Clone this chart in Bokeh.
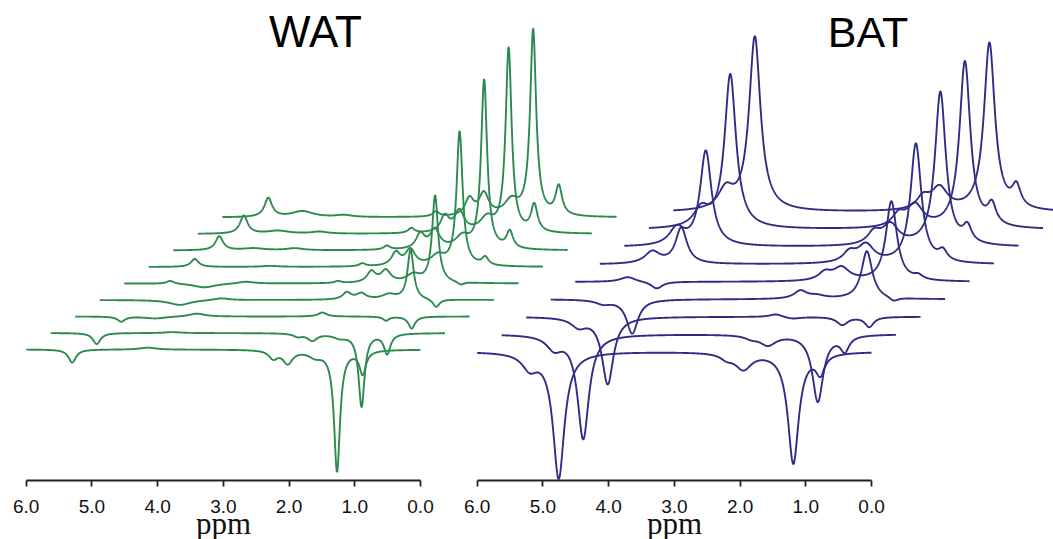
import numpy as np
from bokeh.plotting import figure
from bokeh.models import Range1d, LinearAxis, FixedTicker, PrintfTickFormatter, Label
from bokeh.embed import file_html
from bokeh.resources import INLINE

# ---------------- data ----------------
n_traces = 9
axis_ticks = [6.0, 5.0, 4.0, 3.0, 2.0, 1.0, 0.0]
trace_shift_ppm = 0.373            # horizontal waterfall shift per trace
wat_base0, wat_step = 190.0, 16.5  # baseline of first trace, vertical step (a.u.)
bat_base0, bat_step = 188.0, 17.4

# WAT peak table: position (ppm), half-width (ppm), amplitude per trace (a.u.)
wat_pos = [5.30, 4.78, 4.15, 2.75, 2.24, 2.02, 1.60, 1.27, 0.88]
wat_hw = [0.07, 0.20, 0.15, 0.06, 0.08, 0.09, 0.13, 0.055, 0.06]
wat_olefinic = [-13, -11, -5, 0, 3, 8, 14, 18, 19]
wat_water = [0, 0, -2, -5, -4, 0, 2, 3, 6]
wat_glycerol = [2, 1, 3, 2, 2, 1, 2, 2, 2]
wat_diallylic = [0, 0, 0, 0, 2, 3, 4, 5, 5]
wat_carboxyl = [-8, -3, 4, 7, 11, 13, 15, 16, 17]
wat_allylic = [-13, -7, 0, 6, 12, 16, 19, 21, 22]
wat_beta = [-6, -4, 0, 5, 8, 10, 12, 14, 15]
wat_methylene = [-121, -73, -4, 50, 87, 134, 169, 184, 186]
wat_methyl = [-23, -20, -12, -8, -3, 8, 17, 27, 29]

# BAT peak table
bat_pos = [5.20, 4.76, 2.20, 1.95, 1.19, 0.78]
bat_hw = [0.14, 0.105, 0.12, 0.15, 0.10, 0.08]
bat_olefinic = [-15, -13, -9, -4, 5, 12, 17, 18, 20]
bat_water = [-126, -104, -67, -34, -7, 36, 95, 154, 174]
bat_carboxyl = [-5, -3, 3, 8, 8, 10, 12, 12, 12]
bat_allylic = [-16, -10, -2, 3, 13, 18, 20, 22, 22]
bat_methylene = [-111, -67, -8, 48, 80, 120, 154, 167, 168]
bat_methyl = [-19, -15, -10, -4, 4, 10, 16, 20, 21]

wat_amps = [wat_olefinic, wat_water, wat_glycerol, wat_diallylic, wat_carboxyl,
            wat_allylic, wat_beta, wat_methylene, wat_methyl]
bat_amps = [bat_olefinic, bat_water, bat_carboxyl, bat_allylic, bat_methylene, bat_methyl]

# ---------------- figure ----------------
W, H = 1053, 539
p = figure(width=W, height=H, output_backend="svg", toolbar_location=None,
           x_axis_location=None, y_axis_location=None,
           x_range=Range1d(6.391, -9.632), y_range=Range1d(0, H),
           min_border=0, outline_line_color=None)
p.extra_x_ranges = {"bat": Range1d(13.254, -2.769)}
p.grid.visible = False
p.background_fill_color = "white"
p.border_fill_color = "white"

ppm = np.linspace(6.0, 0.0, 1501)

def spectrum(pos, hw, amps, k):
    y = np.zeros_like(ppm)
    for x0, w, a in zip(pos, hw, amps):
        y += a[k] / (1.0 + ((ppm - x0) / w) ** 2)
    return y

green = "#2c8a4f"
blue = "#2f2c86"

for k in range(n_traces):
    p.line(ppm - k * trace_shift_ppm, wat_base0 + k * wat_step + spectrum(wat_pos, wat_hw, wat_amps, k),
           line_color=green, line_width=1.9)
for k in range(n_traces):
    p.line(ppm - k * trace_shift_ppm, bat_base0 + k * bat_step + spectrum(bat_pos, bat_hw, bat_amps, k),
           line_color=blue, line_width=1.9, x_range_name="bat")

def make_axis(range_name):
    ax = LinearAxis(x_range_name=range_name, fixed_location=59, bounds=(0, 6),
                    ticker=FixedTicker(ticks=axis_ticks, minor_ticks=[]),
                    formatter=PrintfTickFormatter(format="%.1f"),
                    axis_label="ppm")
    ax.axis_line_color = "#222222"
    ax.axis_line_width = 1.8
    ax.major_tick_line_color = "#222222"
    ax.major_tick_line_width = 1.8
    ax.major_tick_out = 6
    ax.major_tick_in = 0
    ax.minor_tick_out = 0
    ax.minor_tick_in = 0
    ax.major_label_text_font = "Liberation Sans"
    ax.major_label_text_font_size = "19px"
    ax.major_label_text_color = "#111111"
    ax.major_label_standoff = 13
    ax.axis_label_text_font = "Liberation Serif"
    ax.axis_label_text_font_style = "normal"
    ax.axis_label_text_font_size = "31px"
    ax.axis_label_text_color = "#111111"
    ax.axis_label_standoff = -10
    return ax

p.add_layout(make_axis("default"), "below")
p.add_layout(make_axis("bat"), "below")

for txt, sx, size in [("WAT", 315, "44px"), ("BAT", 867.5, "43px")]:
    p.add_layout(Label(x=sx, y=508, x_units="screen", y_units="screen", text=txt,
                       text_align="center", text_baseline="alphabetic",
                       text_font="Liberation Sans", text_font_size=size,
                       text_color="#000000"))

open("out.html", "w").write(file_html(p, INLINE))
